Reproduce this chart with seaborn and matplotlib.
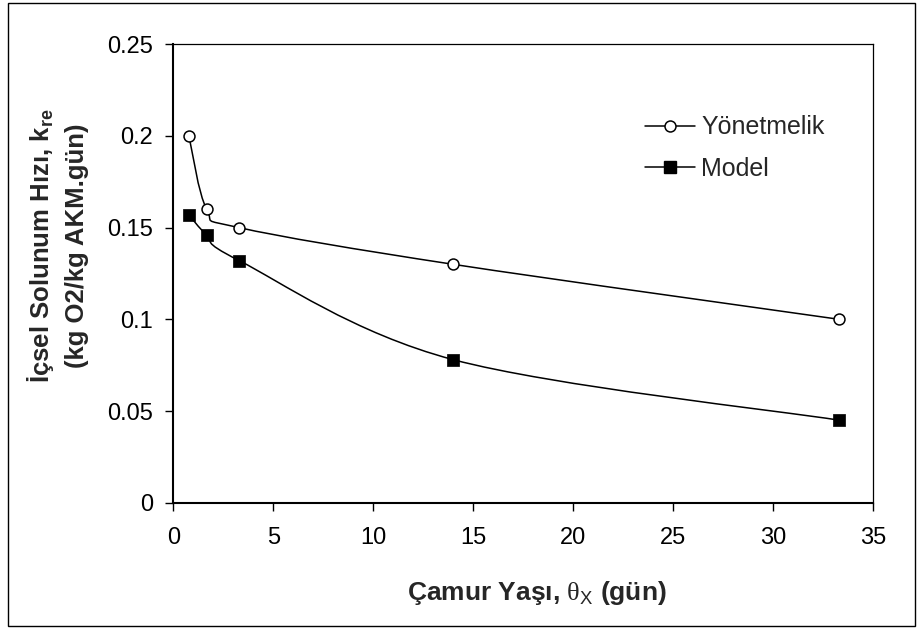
import numpy as np
import matplotlib
matplotlib.use('Agg')
import matplotlib.pyplot as plt
import seaborn as sns
from matplotlib.path import Path
from matplotlib.patches import PathPatch, Rectangle
from matplotlib.lines import Line2D

# values
sludge_age = [0.78, 1.67, 3.3, 14.0, 33.3]
yonetmelik = [0.200, 0.160, 0.150, 0.130, 0.100]
model = [0.157, 0.146, 0.132, 0.078, 0.045]
series_names = ['Yönetmelik', 'Model']
x_ticks = [0, 5, 10, 15, 20, 25, 30, 35]
y_ticks = [0, 0.05, 0.1, 0.15, 0.2, 0.25]
y_tick_labels = ['0', '0.05', '0.1', '0.15', '0.2', '0.25']


def smooth_path(xs, ys):
    # excel-like smoothed line: catmull-rom segments as cubic beziers
    p = np.column_stack([xs, ys])
    pts = np.vstack([p[0], p, p[-1]])
    verts = [p[0]]
    codes = [Path.MOVETO]
    for i in range(1, len(pts) - 2):
        c1 = pts[i] + (pts[i + 1] - pts[i - 1]) / 6.0
        c2 = pts[i + 1] - (pts[i + 2] - pts[i]) / 6.0
        verts += [c1, c2, pts[i + 1]]
        codes += [Path.CURVE4] * 3
    return Path(verts, codes)


sns.set_style('white')
plt.rcParams['font.family'] = ['Liberation Sans', 'DejaVu Sans']
plt.rcParams['mathtext.fontset'] = 'custom'
plt.rcParams['mathtext.rm'] = 'Liberation Serif'
plt.rcParams['mathtext.sf'] = 'Liberation Sans'
plt.rcParams['mathtext.bf'] = 'Liberation Sans:bold'

fig = plt.figure(figsize=(9.23, 6.28), dpi=100)
ax = fig.add_axes([173.3 / 923, 1 - 502.7 / 628, 700 / 923, 458.4 / 628])

# smoothed lines
for ys in [yonetmelik, model]:
    ax.add_patch(PathPatch(smooth_path(sludge_age, ys), fill=False,
                           edgecolor='black', lw=1.1, zorder=2))

sns.scatterplot(x=sludge_age, y=yonetmelik, marker='o', s=62, color='white',
                edgecolor='black', linewidth=1.1, zorder=3, ax=ax)
sns.scatterplot(x=sludge_age, y=model, marker='s', s=80, color='black',
                edgecolor='black', linewidth=0.5, zorder=3, ax=ax)

ax.set_xlim(0, 35)
ax.set_ylim(0, 0.25)
ax.set_xticks(x_ticks)
ax.set_xticklabels([str(t) for t in x_ticks])
ax.set_yticks(y_ticks)
ax.set_yticklabels(y_tick_labels)
ax.tick_params(axis='both', direction='out', length=5.5, width=1, color='black',
               labelsize=17, labelcolor='black', pad=9)
ax.tick_params(axis='x', pad=12)
ax.tick_params(bottom=True, left=True)

for side in ['left', 'bottom']:
    ax.spines[side].set_linewidth(1.5)
    ax.spines[side].set_color('black')
for side in ['top', 'right']:
    ax.spines[side].set_linewidth(0.9)
    ax.spines[side].set_color('black')

ax.set_xlabel(r'Çamur Yaşı, $\mathrm{\theta}_\mathsf{X}$ (gün)', fontsize=19,
              fontweight='bold', va='center')
ax.xaxis.set_label_coords(0.52, -0.197)
ax.set_ylabel('İçsel Solunum Hızı, k$_\\mathbf{re}$\n(kg O2/kg AKM.gün)',
              fontsize=18.5, fontweight='bold', linespacing=1.45,
              va='center', ha='center')
ax.yaxis.set_label_coords(-0.166, 0.56)

handles = [
    Line2D([], [], color='black', lw=1.1, marker='o', markersize=7.9,
           markerfacecolor='white', markeredgecolor='black', markeredgewidth=1.1),
    Line2D([], [], color='black', lw=1.1, marker='s', markersize=8.9,
           markerfacecolor='black', markeredgecolor='black'),
]
ax.legend(handles, series_names, loc='center left',
          bbox_to_anchor=((645 - 173.3) / 700, 1 - (148 - 44.3) / 458.4),
          frameon=False, fontsize=18, handlelength=2.0, handletextpad=0.25,
          labelspacing=0.7, borderpad=0, borderaxespad=0)

# outer chart border
fig.patches.append(Rectangle((8 / 923, 1 - 626 / 628), 907 / 923, 623 / 628,
                             transform=fig.transFigure, fill=False,
                             edgecolor='black', lw=1.0))

fig.savefig('out.png', dpi=100)
